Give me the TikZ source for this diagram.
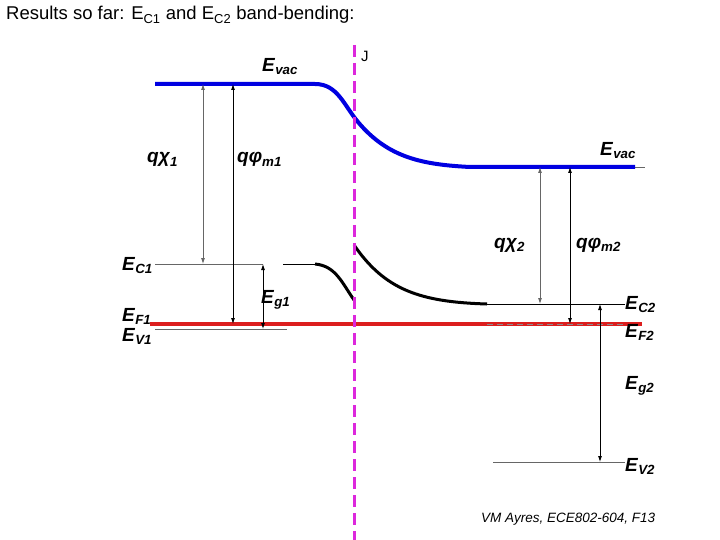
\documentclass[tikz,border=0pt]{standalone}
\usepackage{fontspec}
\setmainfont{Liberation Sans}
\usetikzlibrary{arrows.meta}
\definecolor{vacblue}{RGB}{0,0,225}
\definecolor{fermired}{RGB}{220,30,30}
\definecolor{junction}{RGB}{220,40,220}
% bold italic symbol with a bold italic subscript
\newcommand{\lv}[2]{\textbf{\textit{#1}}\textsubscript{\textbf{\textit{#2}}}}
\begin{document}
\begin{tikzpicture}[x=1pt,y=-1pt,
  level/.style={line width=0.9pt,black!60},
  bandarrow/.style={line width=0.8pt,{Latex[length=6pt,width=4pt]}-{Latex[length=6pt,width=4pt]}},
  lbl/.style={anchor=base west,inner sep=0pt,font=\fontsize{19}{21}\selectfont}]
\useasboundingbox (0,0) rectangle (720,540);

% level end points
\coordinate (vacL) at (155,84);  \coordinate (vacLe) at (315,84);
\coordinate (vacR) at (470,167); \coordinate (vacRe) at (635,167);
\coordinate (vacRt) at (645,167);
\coordinate (ec1) at (155,264);  \coordinate (ec1e) at (263,264);
\coordinate (ec1b) at (283,264); \coordinate (ec1k) at (315,264);
\coordinate (ec1j) at (354,300);
\coordinate (ec2j) at (354,245); \coordinate (ec2k) at (487,304);
\coordinate (ec2e) at (625,304);
\coordinate (ef) at (150,324);   \coordinate (efe) at (642,324);
\coordinate (efd) at (487,324);  \coordinate (efde) at (625,324);
\coordinate (ev1) at (155,329);  \coordinate (ev1e) at (287,329);
\coordinate (ev2) at (493,462);  \coordinate (ev2e) at (625,462);
\coordinate (jt) at (354,45);    \coordinate (jb) at (354,540);

% arrow columns
\coordinate (xa) at (203,0); \coordinate (xb) at (233,0); \coordinate (xc) at (263,0);
\coordinate (xd) at (540,0); \coordinate (xe) at (570,0); \coordinate (xf) at (600,0);

% levels
\draw[level] (ec1) -- (ec1e);
\draw[line width=0.9pt] (ec1b) -- (ec1k);
\draw[line width=3pt] (ec1k) to[out=-5,in=125] (ec1j);
\draw[line width=3pt] (ec2j) .. controls (385,290) and (420,302) .. (ec2k);
\draw[line width=0.9pt] (ec2k) -- (ec2e);
\draw[level] (ev1) -- (ev1e);
\draw[level] (ev2) -- (ev2e);
\draw[fermired,line width=3.5pt] (ef) -- (efe);
\draw[black!45,line width=1pt,dash pattern=on 6pt off 4pt] (efd) -- (efde);
\draw[level] (vacRe) -- (vacRt);
\draw[vacblue,line width=4pt] (vacL) -- (vacLe)
  to[out=0,in=130] (358,122) to[out=-50,in=177] (vacR) -- (vacRe);

% junction
\draw[junction,line width=3pt,dash pattern=on 12pt off 6pt] (jt) -- (jb);

% energy differences
\draw[bandarrow,black!60] (xa |- vacL) -- (xa |- ec1);
\draw[bandarrow] (xb |- vacL) -- (xb |- ef);
\draw[bandarrow] (xc |- ec1) -- (xc |- ev1);
\draw[bandarrow,black!60] (xd |- vacR) -- (xd |- ec2e);
\draw[bandarrow] (xe |- vacR) -- (xe |- ef);
\draw[bandarrow] (xf |- ec2e) -- (xf |- ev2);

% labels
\node[anchor=base west,inner sep=0pt,font=\fontsize{18.5}{20}\selectfont] (title) at (6,20)
  {Results so far: E\textsubscript{C1} and E\textsubscript{C2} band-bending:};
\node[anchor=base west,inner sep=0pt,font=\fontsize{15}{17}\selectfont] (jlbl) at (361,62) {J};
\node[lbl] (vacLlbl) at (262,72) {\lv{E}{vac}};
\node[lbl] (vacRlbl) at (600,156) {\lv{E}{vac}};
\node[lbl] (chi1) at (147,163) {\lv{qχ}{1}};
\node[lbl] (phi1) at (237,163) {\lv{qφ}{m1}};
\node[lbl] (chi2) at (494,248) {\lv{qχ}{2}};
\node[lbl] (phi2) at (576,248) {\lv{qφ}{m2}};
\node[lbl] (ec1lbl) at (122,270) {\lv{E}{C1}};
\node[lbl] (eg1lbl) at (261,303) {\lv{E}{g1}};
\node[lbl] (ef1lbl) at (122,321) {\lv{E}{F1}};
\node[lbl] (ev1lbl) at (122,341) {\lv{E}{V1}};
\node[lbl] (ec2lbl) at (625,309) {\lv{E}{C2}};
\node[lbl] (ef2lbl) at (625,337) {\lv{E}{F2}};
\node[lbl] (eg2lbl) at (625,389) {\lv{E}{g2}};
\node[lbl] (ev2lbl) at (625,471) {\lv{E}{V2}};
\node[anchor=base west,inner sep=0pt,font=\fontsize{13.5}{15}\selectfont\itshape] (foot) at (481,522)
  {VM Ayres, ECE802-604, F13};
\end{tikzpicture}
\end{document}
